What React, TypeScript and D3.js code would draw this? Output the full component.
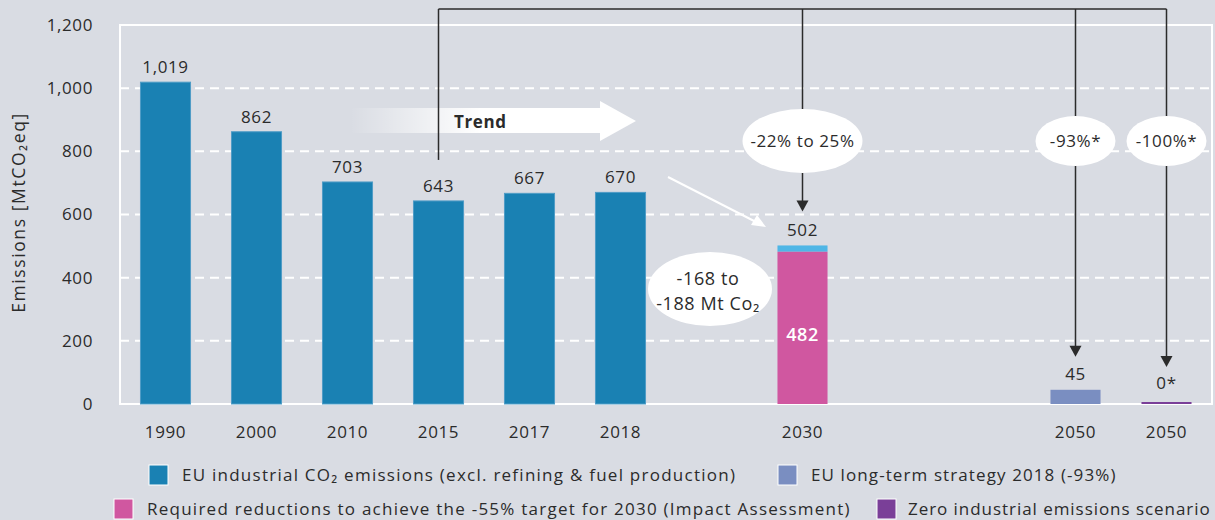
import React from 'react';
import * as d3 from 'd3';

// slots on the x axis (gaps are left empty, as in the original figure)
const slots = ['1990', '2000', '2010', '2015', '2017', '2018', 'gap1', '2030', 'gap2', 'gap3', '2050a', '2050b'];
const slotLabels = ['1990', '2000', '2010', '2015', '2017', '2018', '', '2030', '', '', '2050', '2050'];

const histYears = ['1990', '2000', '2010', '2015', '2017', '2018'];
const histValues = [1019, 862, 703, 643, 667, 670];

const target2030 = 502;
const required2030 = 482;
const ltsValue = 45;
const zeroValue = 0;

const yTicks = [0, 200, 400, 600, 800, 1000, 1200];

const bubbles = [
  { slot: '2030', lines: ['-22% to 25%'], rx: 60, ry: 32 },
  { slot: '2050a', lines: ['-93%*'], rx: 40, ry: 25 },
  { slot: '2050b', lines: ['-100%*'], rx: 40, ry: 25 },
];

const legendRows = [
  [
    { label: 'EU industrial CO₂ emissions (excl. refining & fuel production)', color: '#1a81b3' },
    { label: 'EU long-term strategy 2018 (-93%)', color: '#7a8ec1' },
  ],
  [
    { label: 'Required reductions to achieve the -55% target for 2030 (Impact Assessment)', color: '#d057a0' },
    { label: 'Zero industrial emissions scenario', color: '#7a3f98' },
  ],
];

const BG = '#d9dce3';
const TXT = '#2b2b2b';
const FONT = '"Open Sans", Roboto, sans-serif';
const LS = 0.6;

const width = 1215;
const height = 520;

export default function App() {
  const x = d3.scaleBand().domain(slots).range([120, 1212]).padding(0);
  const y = d3.scaleLinear().domain([0, 1200]).range([404, 25]);
  const barW = x.step() * 0.55;
  const cx = (s) => x(s) + x.bandwidth() / 2;

  const bracketY = 9;
  const arrowHead = (px, py) => `M${px - 6},${py - 11}L${px + 6},${py - 11}L${px},${py}Z`;

  const legendX = [[149, 778], [114, 877]];
  const legendY = [465, 499];
  const legendLS = [[1.25, 1.1], [1.25, 0.95]];

  return (
    <svg width={width} height={height} style={{ position: 'absolute', left: 0, top: 0, background: BG, fontFamily: FONT, letterSpacing: LS }}>
      <defs>
        <linearGradient id="trendGrad" x1="350" x2="480" y1="0" y2="0" gradientUnits="userSpaceOnUse">
          <stop offset="0" stopColor="#fff" stopOpacity="0" />
          <stop offset="1" stopColor="#fff" stopOpacity="1" />
        </linearGradient>
      </defs>
      <rect width={width} height={height} fill={BG} />

      {/* gridlines */}
      {yTicks.slice(1, -1).map((t) => (
        <line key={t} x1={120} x2={1212} y1={y(t)} y2={y(t)} stroke="#fff" strokeWidth={2} strokeDasharray="9,6" />
      ))}
      <rect x={120} y={y(1200)} width={1212 - 120} height={y(0) - y(1200)} fill="none" stroke="#fff" strokeWidth={2} />

      {/* y axis */}
      {yTicks.map((t) => (
        <text key={t} x={93} y={y(t)} dy="0.35em" textAnchor="end" fontSize={17} fill={TXT}>
          {d3.format(',')(t)}
        </text>
      ))}
      <text transform={`translate(25,${(y(0) + y(1200)) / 2 - 2}) rotate(-90)`} textAnchor="middle" fontSize={17.5} letterSpacing={1.6} fill={TXT}>
        Emissions [MtCO₂eq]
      </text>

      {/* x labels */}
      {slots.map((s, i) => (
        <text key={s} x={cx(s)} y={438} textAnchor="middle" fontSize={17} fill={TXT}>
          {slotLabels[i]}
        </text>
      ))}

      {/* historic bars */}
      {histYears.map((yr, i) => (
        <g key={yr}>
          <rect x={cx(yr) - barW / 2} y={y(histValues[i])} width={barW} height={y(0) - y(histValues[i])} fill="#1a81b3" stroke="#4f9cc6" strokeWidth={1} />
          <text x={cx(yr)} y={y(histValues[i]) - 9} textAnchor="middle" fontSize={17} fill={TXT}>
            {d3.format(',')(histValues[i])}
          </text>
        </g>
      ))}

      {/* 2030 */}
      <rect x={cx('2030') - barW / 2} y={y(target2030)} width={barW} height={y(required2030) - y(target2030)} fill="#4fb6e6" />
      <rect x={cx('2030') - barW / 2} y={y(required2030)} width={barW} height={y(0) - y(required2030)} fill="#d057a0" />
      <text x={cx('2030')} y={y(target2030) - 9} textAnchor="middle" fontSize={17} fill={TXT}>{target2030}</text>
      <text x={cx('2030')} y={y(required2030 / 2) + 13} textAnchor="middle" fontSize={18} fontWeight={600} fill="#fff">{required2030}</text>

      {/* 2050 */}
      <rect x={cx('2050a') - barW / 2} y={y(ltsValue)} width={barW} height={y(0) - y(ltsValue)} fill="#7a8ec1" />
      <text x={cx('2050a')} y={y(ltsValue) - 10} textAnchor="middle" fontSize={17} fill={TXT}>{ltsValue}</text>
      <rect x={cx('2050b') - barW / 2} y={y(zeroValue) - 2} width={barW} height={2} fill="#7a3f98" />
      <text x={cx('2050b')} y={y(zeroValue) - 15} textAnchor="middle" fontSize={17} fill={TXT}>{zeroValue}*</text>

      {/* trend arrow */}
      <path d="M350,108L600,108L600,101L636,121L600,141L600,133L350,133Z" fill="url(#trendGrad)" />
      <text x={454} y={128} fontSize={17} fontWeight={700} fill={TXT}>Trend</text>

      {/* white diagonal arrow */}
      <line x1={668} y1={177} x2={758} y2={223} stroke="#fff" strokeWidth={2} />
      <path d="M766,227L751,225L757,215Z" fill="#fff" />

      {/* bracket */}
      <g stroke={TXT} strokeWidth={1.5} fill="none">
        <line x1={cx('2015')} x2={cx('2050b')} y1={bracketY} y2={bracketY} />
        <line x1={cx('2015')} x2={cx('2015')} y1={bracketY} y2={y(643) - 41} />
        <line x1={cx('2030')} x2={cx('2030')} y1={bracketY} y2={y(target2030) - 40} />
        <line x1={cx('2050a')} x2={cx('2050a')} y1={bracketY} y2={y(ltsValue) - 40} />
        <line x1={cx('2050b')} x2={cx('2050b')} y1={bracketY} y2={y(zeroValue) - 44} />
      </g>
      <path d={arrowHead(cx('2030'), y(target2030) - 34)} fill={TXT} />
      <path d={arrowHead(cx('2050a'), y(ltsValue) - 33)} fill={TXT} />
      <path d={arrowHead(cx('2050b'), y(zeroValue) - 37)} fill={TXT} />

      {/* bubbles */}
      {bubbles.map((b) => (
        <g key={b.slot}>
          <ellipse cx={cx(b.slot)} cy={141} rx={b.rx} ry={b.ry} fill="#fff" />
          <text x={cx(b.slot)} y={141} dy="0.35em" textAnchor="middle" fontSize={17} fill={TXT}>{b.lines[0]}</text>
        </g>
      ))}
      <ellipse cx={710} cy={289} rx={62} ry={37} fill="#fff" />
      <text x={708} y={285} textAnchor="middle" fontSize={18} fill={TXT}>-168 to</text>
      <text x={708} y={310} textAnchor="middle" fontSize={18} fill={TXT}>-188 Mt Co₂</text>

      {/* legend */}
      {legendRows.map((row, r) =>
        row.map((item, k) => (
          <g key={item.label} transform={`translate(${legendX[r][k]},${legendY[r]})`}>
            <rect width={19} height={20} fill={item.color} stroke="#fff" strokeWidth={1} />
            <text x={k === 1 && r === 1 ? 31 : 33} y={16} fontSize={17} fill={TXT} letterSpacing={legendLS[r][k]}>{item.label}</text>
          </g>
        ))
      )}
    </svg>
  );
}
